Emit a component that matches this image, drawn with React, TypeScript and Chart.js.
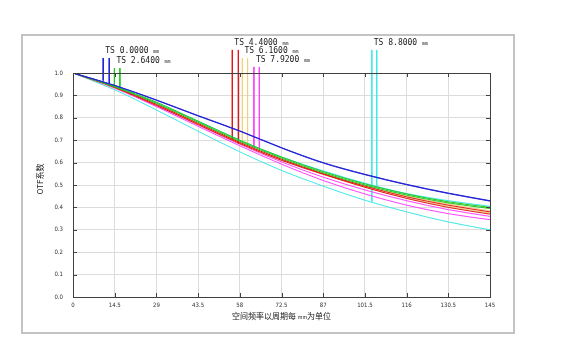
import React, { useEffect, useRef } from "react";
import { Chart, registerables } from "chart.js";
Chart.register(...registerables);

// spatial frequency (cycles per mm)
const freq = [0, 14.5, 29, 43.5, 58, 72.5, 87, 101.5, 116, 130.5, 145];
const xTicks = [0, 14.5, 29, 43.5, 58, 72.5, 87, 101.5, 116, 130.5, 145];
const yTicks = [0, 0.1, 0.2, 0.3, 0.4, 0.5, 0.6, 0.7, 0.8, 0.9, 1.0];

// MTF curves, tangential (T) and sagittal (S) for six fields
const f1T = [1, 0.945, 0.88, 0.81, 0.742, 0.667, 0.6, 0.548, 0.503, 0.464, 0.43];
const f1S = [1, 0.944, 0.878, 0.808, 0.74, 0.665, 0.598, 0.546, 0.501, 0.462, 0.428];
const f2T = [1, 0.94, 0.87, 0.785, 0.7, 0.625, 0.56, 0.505, 0.46, 0.425, 0.4];
const f2S = [1, 0.938, 0.865, 0.78, 0.695, 0.62, 0.555, 0.5, 0.455, 0.42, 0.395];
const f3T = [1, 0.935, 0.855, 0.77, 0.685, 0.61, 0.548, 0.49, 0.44, 0.4, 0.37];
const f3S = [1, 0.937, 0.86, 0.775, 0.69, 0.615, 0.55, 0.495, 0.447, 0.41, 0.38];
const f4T = [1, 0.936, 0.86, 0.775, 0.69, 0.615, 0.552, 0.496, 0.45, 0.415, 0.385];
const f4S = [1, 0.935, 0.857, 0.77, 0.685, 0.61, 0.547, 0.49, 0.442, 0.405, 0.375];
const f5T = [1, 0.932, 0.85, 0.762, 0.675, 0.593, 0.52, 0.46, 0.41, 0.372, 0.345];
const f5S = [1, 0.935, 0.855, 0.768, 0.682, 0.603, 0.535, 0.478, 0.43, 0.39, 0.36];
const f6T = [1, 0.925, 0.835, 0.74, 0.648, 0.565, 0.495, 0.432, 0.38, 0.335, 0.3];
const f6S = [1, 0.94, 0.865, 0.785, 0.7, 0.625, 0.563, 0.508, 0.462, 0.43, 0.405];

const fieldLabels = ["TS 0.0000", "TS 2.6400", "TS 4.4000", "TS 6.1600", "TS 7.9200", "TS 8.8000"];
const fieldColors = ["#2020d8", "#20c820", "#e01818", "#f0d078", "#ff40ff", "#40e8e8"];
const curvesT = [f1T, f2T, f3T, f4T, f5T, f6T];
const curvesS = [f1S, f2S, f3S, f4S, f5S, f6S];

// legend marker lines: x of T and S line, top value, bottom values
const markerXT = [10.5, 14.4, 55.4, 58.9, 62.9, 103.9];
const markerXS = [12.6, 16.3, 57.5, 60.7, 64.8, 105.6];
const markerTop = [1.067, 1.022, 1.103, 1.067, 1.027, 1.103];
const markerBotT = [0.966, 0.94, 0.704, 0.69, 0.671, 0.425];
const markerBotS = [0.955, 0.935, 0.686, 0.68, 0.664, 0.49];

const xTitle = "空间频率以周期每 ";
const xTitleUnit = "mm";
const xTitleEnd = "为单位";
const yTitle = "OTF系数";

export default function App() {
  const ref = useRef<HTMLCanvasElement | null>(null);
  useEffect(() => {
    if (!ref.current) return;
    const datasets: any[] = [];
    for (let i = 0; i < 6; i++) {
      datasets.push({
        data: freq.map((x, k) => ({ x, y: curvesT[i][k] })),
        borderColor: fieldColors[i],
        borderWidth: 1,
        pointRadius: 0,
        cubicInterpolationMode: "monotone",
      });
      datasets.push({
        data: freq.map((x, k) => ({ x, y: curvesS[i][k] })),
        borderColor: fieldColors[i],
        borderWidth: 1,
        pointRadius: 0,
        cubicInterpolationMode: "monotone",
      });
      datasets.push({
        data: [{ x: markerXT[i], y: markerTop[i] }, { x: markerXT[i], y: markerBotT[i] }],
        borderColor: fieldColors[i],
        borderWidth: 1,
        pointRadius: 0,
        clip: false,
      });
      datasets.push({
        data: [{ x: markerXS[i], y: markerTop[i] }, { x: markerXS[i], y: markerBotS[i] }],
        borderColor: fieldColors[i],
        borderWidth: 1,
        pointRadius: 0,
        clip: false,
      });
    }

    const decor = {
      id: "decor",
      beforeDraw(chart: any) {
        const ctx = chart.ctx;
        ctx.save();
        ctx.fillStyle = "#ffffff";
        ctx.fillRect(0, 0, chart.width, chart.height);
        ctx.strokeStyle = "#b0b0b0";
        ctx.lineWidth = 1.5;
        ctx.strokeRect(22, 35, 492, 298);
        ctx.restore();
      },
      afterDraw(chart: any) {
        const ctx = chart.ctx;
        const a = chart.chartArea;
        const xs = chart.scales.x;
        const ys = chart.scales.y;
        ctx.save();
        ctx.strokeStyle = "#404040";
        ctx.lineWidth = 1;
        ctx.strokeRect(Math.round(a.left) + 0.5, Math.round(a.top) + 0.5, Math.round(a.right - a.left), Math.round(a.bottom - a.top));
        ctx.beginPath();
        for (const v of xTicks) {
          const px = Math.round(xs.getPixelForValue(v)) + 0.5;
          ctx.moveTo(px, a.bottom);
          ctx.lineTo(px, a.bottom - 4);
          ctx.moveTo(px, a.top);
          ctx.lineTo(px, a.top + 4);
        }
        for (const v of yTicks) {
          const py = Math.round(ys.getPixelForValue(v)) + 0.5;
          ctx.moveTo(a.left, py);
          ctx.lineTo(a.left + 4, py);
          ctx.moveTo(a.right, py);
          ctx.lineTo(a.right - 4, py);
        }
        ctx.stroke();

        // field labels
        ctx.fillStyle = "#202020";
        ctx.textBaseline = "middle";
        for (let i = 0; i < 6; i++) {
          const px = xs.getPixelForValue(markerXT[i]) + 2;
          const py = ys.getPixelForValue(markerTop[i]) - 7;
          ctx.font = "8px 'DejaVu Sans Mono'";
          const t = fieldLabels[i] + " ";
          ctx.fillText(t, px, py);
          const w = ctx.measureText(t).width;
          ctx.font = "5px 'DejaVu Sans Mono'";
          ctx.fillText("mm", px + w, py + 1);
        }

        // axis titles
        ctx.fillStyle = "#202020";
        ctx.font = "8px 'Noto Sans CJK SC'";
        const w1 = ctx.measureText(xTitle).width;
        const w3 = ctx.measureText(xTitleEnd).width;
        ctx.font = "5px 'Noto Sans CJK SC'";
        const w2 = ctx.measureText(xTitleUnit).width;
        const total = w1 + w2 + w3;
        const sx = (a.left + a.right) / 2 - total / 2;
        const ty = 316;
        ctx.textAlign = "left";
        ctx.font = "8px 'Noto Sans CJK SC'";
        ctx.fillText(xTitle, sx, ty);
        ctx.font = "5px 'Noto Sans CJK SC'";
        ctx.fillText(xTitleUnit, sx + w1, ty + 1);
        ctx.font = "8px 'Noto Sans CJK SC'";
        ctx.fillText(xTitleEnd, sx + w1 + w2, ty);

        ctx.translate(40, (a.top + a.bottom) / 2 - 6);
        ctx.rotate(-Math.PI / 2);
        ctx.textAlign = "center";
        ctx.font = "8px 'Noto Sans CJK SC'";
        ctx.fillText(yTitle, 0, 0);
        ctx.restore();
      },
    };

    const chart = new Chart(ref.current, {
      type: "line",
      data: { datasets },
      options: {
        animation: false,
        responsive: false,
        maintainAspectRatio: false,
        layout: { padding: { left: 0, top: 73, right: 78, bottom: 0 } },
        plugins: { legend: { display: false }, tooltip: { enabled: false } },
        scales: {
          x: {
            type: "linear",
            min: 0,
            max: 145,
            afterBuildTicks: (s: any) => { s.ticks = xTicks.map((v) => ({ value: v })); },
            afterFit: (s: any) => { s.height = 58; },
            grid: { color: "#dcdcdc", drawTicks: false, lineWidth: 1 },
            border: { display: false },
            ticks: {
              padding: 5,
              color: "#303030",
              font: { size: 6, family: "'DejaVu Sans Condensed'" },
              maxRotation: 0,
              autoSkip: false,
              callback: (v: any) => String(v),
            },
          },
          y: {
            type: "linear",
            min: 0,
            max: 1,
            afterBuildTicks: (s: any) => { s.ticks = yTicks.map((v) => ({ value: v })); },
            afterFit: (s: any) => { s.width = 73; },
            grid: { color: "#dcdcdc", drawTicks: false, lineWidth: 1 },
            border: { display: false },
            ticks: {
              padding: 10,
              color: "#303030",
              font: { size: 6, family: "'DejaVu Sans Condensed'" },
              autoSkip: false,
              callback: (v: any) => Number(v).toFixed(1),
            },
          },
        },
      },
      plugins: [decor],
    } as any);
    return () => chart.destroy();
  }, []);
  return (
    <div style={{ position: "absolute", left: 0, top: 0, width: 568, height: 355 }}>
      <canvas ref={ref} width={568} height={355} style={{ width: 568, height: 355 }} />
    </div>
  );
}
